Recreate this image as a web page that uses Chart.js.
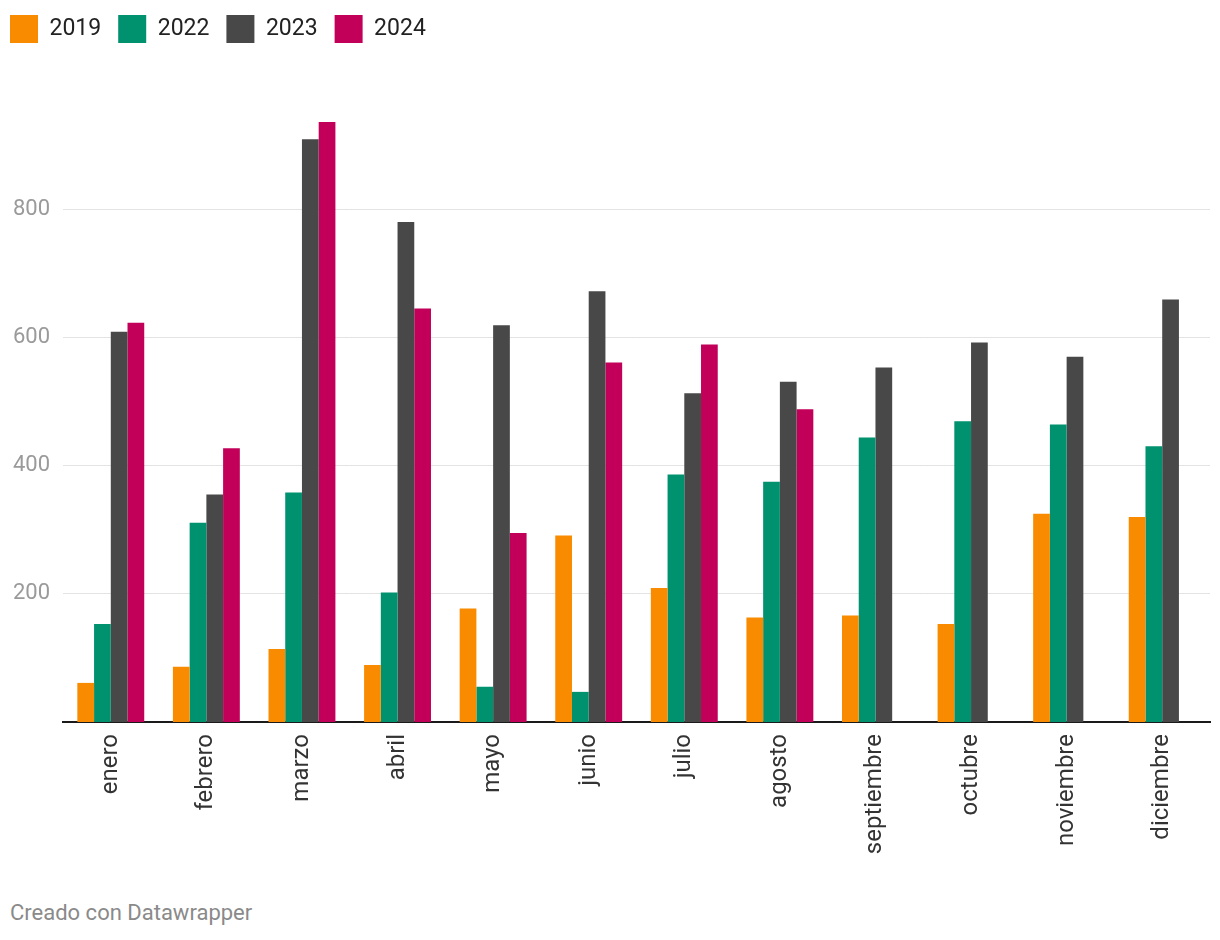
<!DOCTYPE html>
<html>
<head>
<meta charset="utf-8">
<script src="https://cdn.jsdelivr.net/npm/chart.js@4"></script>
<style>
  body { margin: 0; background: #fff; font-family: Roboto, sans-serif; }
  #wrap { position: relative; width: 1220px; height: 940px; }
  #note { position: absolute; left: 10px; top: 900px; font-size: 22px; color: #8a8a8a; }
</style>
</head>
<body>
<div id="wrap">
  <canvas id="chart" width="1220" height="890"></canvas>
  <div id="note">Creado con Datawrapper</div>
</div>
<script>
// months (categories)
const months = ["enero", "febrero", "marzo", "abril", "mayo", "junio",
  "julio", "agosto", "septiembre", "octubre", "noviembre", "diciembre"];

// values per year
const v2019 = [61, 86, 114, 89, 177, 291, 209, 163, 166, 153, 325, 320];
const v2022 = [153, 311, 358, 202, 55, 47, 386, 375, 444, 469, 464, 430];
const v2023 = [609, 355, 909, 780, 619, 672, 513, 531, 553, 592, 570, 659];
const v2024 = [623, 427, 936, 645, 295, 561, 589, 488, null, null, null, null];

const yearLabels = ["2019", "2022", "2023", "2024"];
const yearColors = ["#f88b00", "#00916f", "#484848", "#c2005a"];
const yTicks = [200, 400, 600, 800];

const seriesValues = [v2019, v2022, v2023, v2024];

const datasets = seriesValues.map((vals, i) => ({
  label: yearLabels[i],
  data: vals,
  backgroundColor: yearColors[i],
  borderWidth: 0,
  categoryPercentage: 0.7,
  barPercentage: 1.0
}));

const legendPad = 17;

// keeps the legend block a fixed height and nudges it to the top-left corner
const legendPlacer = {
  id: "legendPlacer",
  afterInit(chart) {
    const lg = chart.legend;
    const fit = lg.fit;
    lg.fit = function () {
      fit.call(this);
      this.height = 81;
    };
  },
  afterLayout(chart) {
    const lg = chart.legend;
    lg.left = 10 - legendPad;
    lg.top = 14 - legendPad + 1;
  }
};

function renderChart() {
  const ctx = document.getElementById("chart").getContext("2d");

  new Chart(ctx, {
    type: "bar",
    data: { labels: months, datasets: datasets },
    plugins: [legendPlacer],
    options: {
      responsive: false,
      animation: false,
      layout: { padding: { left: 0, right: 10, top: 0, bottom: 0 } },
      plugins: {
        tooltip: { enabled: false },
        legend: {
          position: "top",
          align: "start",
          labels: {
            boxWidth: 28,
            boxHeight: 28,
            padding: legendPad,
            color: "#222",
            font: { family: "Roboto", size: 23 }
          }
        }
      },
      scales: {
        x: {
          grid: { display: false, drawTicks: false },
          border: { display: true, color: "#1a1a1a", width: 2 },
          ticks: {
            minRotation: 90,
            maxRotation: 90,
            padding: 12,
            color: "#333",
            font: { family: "Roboto", size: 24 }
          },
          afterFit: (axis) => { axis.height = 168; }
        },
        y: {
          min: 0,
          max: 1000,
          afterBuildTicks: (axis) => {
            axis.ticks = yTicks.map((v) => ({ value: v }));
          },
          grid: { color: "#e3e3e3", drawTicks: false, lineWidth: 1 },
          border: { display: false },
          ticks: {
            padding: 13,
            color: "#9a9a9a",
            font: { family: "Roboto", size: 22 }
          },
          afterFit: (axis) => { axis.width = 63; }
        }
      }
    }
  });
}

document.addEventListener("DOMContentLoaded", renderChart);
</script>
</body>
</html>
